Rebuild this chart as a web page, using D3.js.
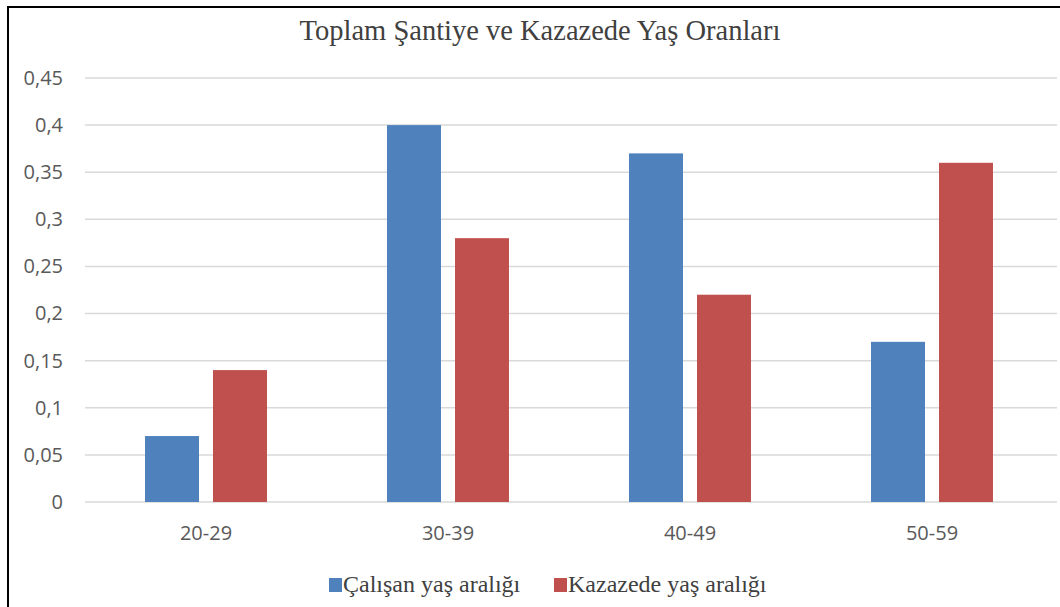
<!DOCTYPE html>
<html>
<head>
<meta charset="utf-8">
<script src="https://cdn.jsdelivr.net/npm/d3@7"></script>
<style>
  html, body { margin: 0; padding: 0; background: #fff; }
  svg { display: block; }
</style>
</head>
<body>
<svg id="chart" width="1060" height="607"></svg>
<script>
// chart data
const categories = ["20-29", "30-39", "40-49", "50-59"]
const seriesNames = ["Çalışan yaş aralığı", "Kazazede yaş aralığı"]
const calisan = [0.07, 0.40, 0.37, 0.17]
const kazazede = [0.14, 0.28, 0.22, 0.36]
const yTicks = [0, 0.05, 0.1, 0.15, 0.2, 0.25, 0.3, 0.35, 0.4, 0.45]
const colors = ["#4F81BD", "#C0504D"]
const title = "Toplam Şantiye ve Kazazede Yaş Oranları"

const rows = categories.map((c, i) => ({ cat: c, values: [calisan[i], kazazede[i]] }))

const svg = d3.select("svg#chart")

// frame (only top and left edges show in the picture)
svg.append("path")
    .attr("d", "M8,607 L8,7 L1060,7")
    .attr("fill", "none")
    .attr("stroke", "#000")
    .attr("stroke-width", 2)

const x0 = d3.scaleBand()
    .domain(categories)
    .range([85, 1053])
    .paddingInner(0.496)
    .paddingOuter(0.248)

const x1 = d3.scaleBand()
    .domain(seriesNames)
    .range([0, x0.bandwidth()])
    .paddingInner(0.206)

const y = d3.scaleLinear()
    .domain([0, 0.45])
    .range([502, 78])

const fmt = d => String(d).replace(".", ",")

// gridlines
svg.selectAll("line.grid")
    .data(yTicks)
    .join("line")
    .attr("class", "grid")
    .attr("x1", 85)
    .attr("x2", 1057)
    .attr("y1", d => y(d))
    .attr("y2", d => y(d))
    .attr("stroke", "#d9d9d9")
    .attr("stroke-width", 1.5)

// y axis labels
const yAxis = svg.append("g")
    .attr("transform", "translate(63,0)")
    .call(d3.axisLeft(y).tickValues(yTicks).tickFormat(fmt).tickSize(0).tickPadding(0))
yAxis.select(".domain").remove()
yAxis.selectAll("text")
    .attr("font-family", "'Open Sans', 'Noto Sans', sans-serif")
    .attr("font-size", 20)
    .attr("fill", "#595959")

// x axis labels
const xAxis = svg.append("g")
    .attr("transform", "translate(0,526)")
    .call(d3.axisBottom(x0).tickSize(0).tickPadding(0))
xAxis.select(".domain").remove()
xAxis.selectAll("text")
    .attr("font-family", "'Open Sans', 'Noto Sans', sans-serif")
    .attr("font-size", 20)
    .attr("fill", "#595959")

// bars
const groups = svg.selectAll("g.group")
    .data(rows)
    .join("g")
    .attr("class", "group")
    .attr("transform", d => `translate(${x0(d.cat)},0)`)

groups.selectAll("rect")
    .data(d => d.values.map((v, i) => ({ name: seriesNames[i], v: v, i: i })))
    .join("rect")
    .attr("x", d => x1(d.name))
    .attr("width", x1.bandwidth())
    .attr("y", d => y(d.v))
    .attr("height", d => y(0) - y(d.v))
    .attr("fill", d => colors[d.i])

// title
svg.append("text")
    .attr("x", 540)
    .attr("y", 40)
    .attr("text-anchor", "middle")
    .attr("font-family", "'Liberation Serif', 'Times New Roman', serif")
    .attr("font-size", 28.5)
    .attr("fill", "#404040")
    .text(title)

// legend
const legendX = [329, 554]
const legend = svg.selectAll("g.legend")
    .data(seriesNames)
    .join("g")
    .attr("class", "legend")
    .attr("transform", (d, i) => `translate(${legendX[i]},578)`)

legend.append("rect")
    .attr("width", 13)
    .attr("height", 14)
    .attr("fill", (d, i) => colors[i])

legend.append("text")
    .attr("x", 14)
    .attr("y", 14)
    .attr("font-family", "'Liberation Serif', 'Times New Roman', serif")
    .attr("font-size", 24)
    .attr("fill", "#404040")
    .text(d => d)
</script>
</body>
</html>
